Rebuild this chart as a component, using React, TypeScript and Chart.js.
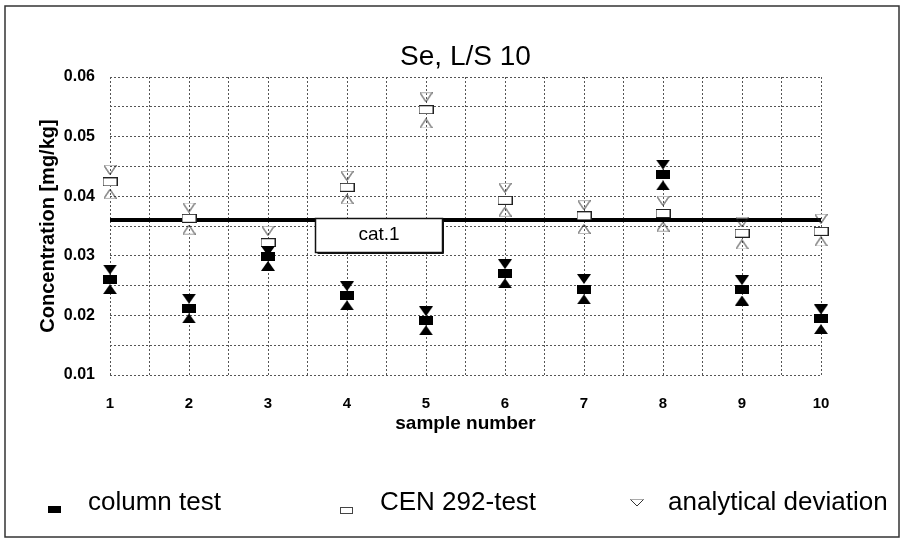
import React, { useEffect, useRef } from 'react';
import { Chart, registerables } from 'chart.js';

Chart.register(...registerables);

// ---- data ----
const samples = [1, 2, 3, 4, 5, 6, 7, 8, 9, 10];
const columnTest = [0.0261, 0.0212, 0.0299, 0.0233, 0.0191, 0.027, 0.0244, 0.0436, 0.0243, 0.0194];
const columnUpper = [0.0277, 0.0228, 0.0308, 0.0249, 0.0207, 0.0286, 0.0261, 0.0453, 0.0259, 0.021];
const columnLower = [0.0244, 0.0195, 0.0283, 0.0217, 0.0175, 0.0254, 0.0227, 0.0418, 0.0225, 0.0177];
const cen292 = [0.0424, 0.0363, 0.0322, 0.0415, 0.0545, 0.0393, 0.0367, 0.0371, 0.0338, 0.0341];
const cenUpper = [0.0444, 0.0381, 0.0342, 0.0434, 0.0566, 0.0414, 0.0385, 0.0392, 0.0356, 0.0362];
const cenLower = [0.0404, 0.0344, 0.0302, 0.0395, 0.0522, 0.0374, 0.0345, 0.0349, 0.0319, 0.0324];
const cat1Limit = 0.036;
const yTickLabels = ['0.01', '0.02', '0.03', '0.04', '0.05', '0.06'];
const legendLabels = ['column test', 'CEN 292-test', 'analytical deviation'];
const chartTitle = 'Se, L/S 10';

const FONT = '"Liberation Sans", Arial, Helvetica, sans-serif';

function mk(w: number, h: number, fn: (g: CanvasRenderingContext2D) => void) {
  const c = document.createElement('canvas');
  c.width = w;
  c.height = h;
  const g = c.getContext('2d')!;
  fn(g);
  return c;
}

export default function App() {
  const ref = useRef<HTMLCanvasElement>(null);

  useEffect(() => {
    document.body.style.margin = '0';
    const canvas = ref.current!;

    const colSq = mk(14, 9, (g) => {
      g.fillStyle = '#000';
      g.fillRect(0, 0, 14, 9);
    });
    const colDown = mk(14, 10, (g) => {
      g.fillStyle = '#000';
      g.beginPath();
      g.moveTo(0, 0);
      g.lineTo(14, 0);
      g.lineTo(7, 10);
      g.closePath();
      g.fill();
    });
    const colUp = mk(14, 10, (g) => {
      g.fillStyle = '#000';
      g.beginPath();
      g.moveTo(7, 0);
      g.lineTo(14, 10);
      g.lineTo(0, 10);
      g.closePath();
      g.fill();
    });
    const cenSq = mk(15, 9, (g) => {
      g.fillStyle = '#fff';
      g.fillRect(0, 0, 15, 9);
      g.strokeStyle = '#222';
      g.lineWidth = 1;
      g.strokeRect(0.5, 0.5, 14, 8);
    });
    const cenDown = mk(13, 10, (g) => {
      g.lineWidth = 1;
      g.strokeStyle = '#bbb';
      g.beginPath();
      g.moveTo(0.5, 0.5);
      g.lineTo(12.5, 0.5);
      g.stroke();
      g.strokeStyle = '#222';
      g.beginPath();
      g.moveTo(0.5, 0.5);
      g.lineTo(6.5, 9.5);
      g.lineTo(12.5, 0.5);
      g.stroke();
    });
    const cenUp = mk(13, 10, (g) => {
      g.lineWidth = 1;
      g.strokeStyle = '#bbb';
      g.beginPath();
      g.moveTo(0.5, 9.5);
      g.lineTo(12.5, 9.5);
      g.stroke();
      g.strokeStyle = '#222';
      g.beginPath();
      g.moveTo(0.5, 9.5);
      g.lineTo(6.5, 0.5);
      g.lineTo(12.5, 9.5);
      g.stroke();
    });

    const pts = (arr: number[]) => samples.map((s, i) => ({ x: s, y: arr[i] }));

    const decor = {
      id: 'decor',
      beforeDraw(chart: any) {
        const ctx = chart.ctx;
        ctx.save();
        ctx.fillStyle = '#fff';
        ctx.fillRect(0, 0, chart.width, chart.height);
        ctx.restore();
      },
      afterDatasetsDraw(chart: any) {
        const ctx = chart.ctx;
        const xs = chart.scales.x;
        const ys = chart.scales.y;
        const l = Math.round(xs.getPixelForValue(3.6)) + 0.5;
        const r = Math.round(xs.getPixelForValue(5.2)) + 0.5;
        const t = Math.round(ys.getPixelForValue(cat1Limit)) - 1.5;
        const b = t + 34;
        ctx.save();
        ctx.fillStyle = '#fff';
        ctx.fillRect(l, t, r - l, b - t);
        ctx.strokeStyle = '#111';
        ctx.lineWidth = 1.5;
        ctx.strokeRect(l, t, r - l, b - t);
        ctx.lineWidth = 1;
        ctx.beginPath();
        ctx.moveTo(l + 2, b + 1);
        ctx.lineTo(r + 1, b + 1);
        ctx.lineTo(r + 1, t + 2);
        ctx.stroke();
        ctx.fillStyle = '#000';
        ctx.font = `19px ${FONT}`;
        ctx.textAlign = 'center';
        ctx.textBaseline = 'alphabetic';
        ctx.fillText('cat.1', (l + r) / 2, t + 21);
        ctx.restore();
      },
      afterDraw(chart: any) {
        const ctx = chart.ctx;
        const ca = chart.chartArea;
        ctx.save();
        // title
        ctx.fillStyle = '#000';
        ctx.font = `28px ${FONT}`;
        ctx.textAlign = 'center';
        ctx.textBaseline = 'alphabetic';
        ctx.fillText(chartTitle, (ca.left + ca.right) / 2, 65);

        // legend
        ctx.textAlign = 'left';
        ctx.font = `26px ${FONT}`;
        // column test
        ctx.fillStyle = '#000';
        ctx.fillRect(48, 506, 13, 7);
        ctx.fillText(legendLabels[0], 88, 510);
        // CEN 292-test
        ctx.fillStyle = '#fff';
        ctx.fillRect(340, 507, 12, 6);
        ctx.strokeStyle = '#444';
        ctx.lineWidth = 1;
        ctx.strokeRect(340.5, 507.5, 12, 6);
        ctx.fillStyle = '#000';
        ctx.fillText(legendLabels[1], 380, 510);
        // analytical deviation
        ctx.strokeStyle = '#aaa';
        ctx.beginPath();
        ctx.moveTo(630.5, 499.5);
        ctx.lineTo(643.5, 499.5);
        ctx.stroke();
        ctx.strokeStyle = '#333';
        ctx.beginPath();
        ctx.moveTo(630.5, 499.5);
        ctx.lineTo(637, 506);
        ctx.lineTo(643.5, 499.5);
        ctx.stroke();
        ctx.fillStyle = '#000';
        ctx.fillText(legendLabels[2], 668, 510);

        // outer frame
        ctx.strokeStyle = '#333';
        ctx.lineWidth = 1.5;
        ctx.strokeRect(5, 6, 894, 531);
        ctx.restore();
      },
    };

    const gridCommon = { color: '#555', lineWidth: 1, drawTicks: false };

    const chart = new Chart(canvas, {
      type: 'scatter',
      data: {
        datasets: [
          {
            label: 'cat.1',
            type: 'line',
            data: [
              { x: samples[0], y: cat1Limit },
              { x: samples[samples.length - 1], y: cat1Limit },
            ],
            borderColor: '#000',
            borderWidth: 4,
            pointRadius: 0,
            showLine: true,
            clip: false,
            order: 10,
          } as any,
          { label: 'CEN 292-test', data: pts(cen292), pointStyle: cenSq as any, clip: false, order: 6 },
          { label: 'analytical deviation (CEN, upper)', data: pts(cenUpper), pointStyle: cenDown as any, clip: false, order: 5 },
          { label: 'analytical deviation (CEN, lower)', data: pts(cenLower), pointStyle: cenUp as any, clip: false, order: 5 },
          { label: 'analytical deviation (column, upper)', data: pts(columnUpper), pointStyle: colDown as any, clip: false, order: 2 },
          { label: 'analytical deviation (column, lower)', data: pts(columnLower), pointStyle: colUp as any, clip: false, order: 2 },
          { label: 'column test', data: pts(columnTest), pointStyle: colSq as any, clip: false, order: 1 },
        ],
      },
      options: {
        animation: false,
        responsive: false,
        devicePixelRatio: 1,
        layout: { padding: { top: 77, right: 83, bottom: 98, left: 0 } },
        plugins: {
          legend: { display: false },
          tooltip: { enabled: false },
          title: { display: false },
        },
        scales: {
          x: {
            type: 'linear',
            min: 1,
            max: 10,
            afterFit: (s: any) => {
              s.height = 70;
            },
            border: { display: false, dash: [2, 2] },
            grid: gridCommon,
            ticks: {
              stepSize: 0.5,
              autoSkip: false,
              maxRotation: 0,
              padding: 20,
              color: '#000',
              font: { family: FONT, size: 15, weight: 'bold' },
              callback: (v: any) => {
                const n = Number(v);
                return Math.abs(n - Math.round(n)) < 1e-9 ? String(Math.round(n)) : '';
              },
            },
            title: {
              display: true,
              text: 'sample number',
              color: '#000',
              font: { family: FONT, size: 19, weight: 'bold' },
              padding: { top: 0, bottom: 10 },
            },
          },
          y: {
            type: 'linear',
            min: 0.01,
            max: 0.06,
            afterFit: (s: any) => {
              s.width = 110;
            },
            border: { display: false, dash: [2, 2] },
            grid: gridCommon,
            ticks: {
              stepSize: 0.005,
              padding: 15,
              color: '#000',
              font: { family: FONT, size: 16, weight: 'bold' },
              callback: (v: any) => {
                const n = Math.round(Number(v) * 1000);
                if (n % 10 !== 0) return '';
                const idx = n / 10 - 1;
                return yTickLabels[idx] ?? '';
              },
            },
            title: {
              display: true,
              text: 'Concentration [mg/kg]',
              color: '#000',
              font: { family: FONT, size: 20, weight: 'bold' },
              padding: { top: 36, bottom: 0 },
            },
          },
        },
      } as any,
      plugins: [decor],
    });

    return () => chart.destroy();
  }, []);

  return (
    <div style={{ position: 'absolute', left: 0, top: 0, width: 904, height: 543, background: '#fff' }}>
      <canvas ref={ref} width={904} height={543} style={{ display: 'block', width: 904, height: 543 }} />
    </div>
  );
}
